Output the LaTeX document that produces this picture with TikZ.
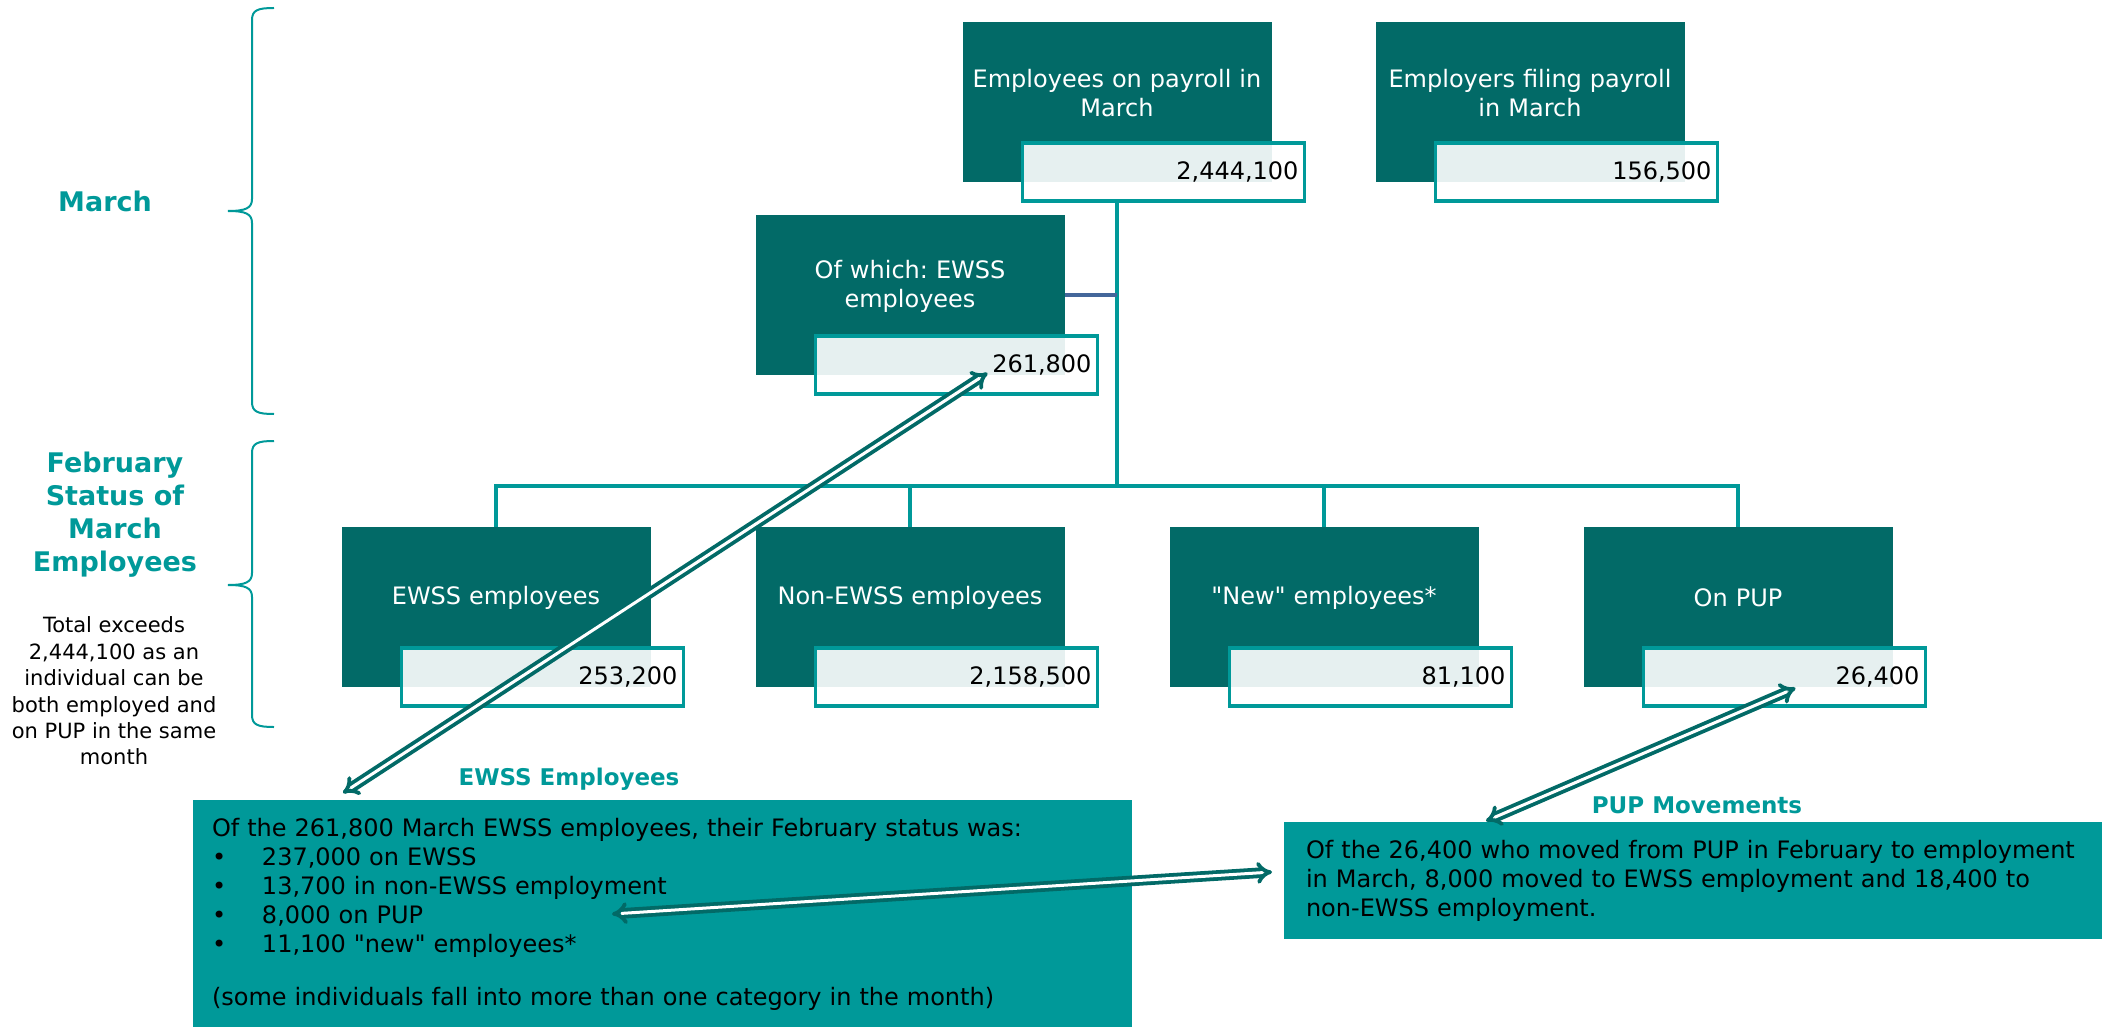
\documentclass[tikz,border=0pt]{standalone}
\usepackage{fontspec}
\setmainfont{DejaVu Sans}
\usetikzlibrary{positioning,arrows.meta}
\frenchspacing

\definecolor{darkteal}{HTML}{026A67}
\definecolor{midteal}{HTML}{009999}
\definecolor{linkblue}{HTML}{44679A}

\tikzset{
  every node/.append style={font=\fontsize{24pt}{29pt}\selectfont},
  darkbox/.style={fill=darkteal,minimum width=309pt,minimum height=160pt,inner sep=0pt,outer sep=0pt},
  boxtext/.style={text=white,align=center,text width=300pt,yshift=9pt},
  valbox/.style={draw=midteal,line width=3.5pt,fill=white,fill opacity=0.9,text opacity=1,
    minimum width=282pt,minimum height=58pt,text width=270pt,align=right,inner sep=0pt,
    outer sep=0pt,anchor=north west},
  link/.style={draw=midteal,line width=4pt},
  notebox/.style={fill=midteal,anchor=north west,align=left,inner xsep=19pt,inner ysep=18pt,outer sep=0pt},
  notehead/.style={text=midteal,font=\bfseries\fontsize{23pt}{28pt}\selectfont},
  sidehead/.style={text=midteal,align=center,font=\bfseries\fontsize{27pt}{33pt}\selectfont},
  sidebrace/.style={draw=midteal,line width=2pt},
  twoway/.style={draw=darkteal,line width=3.8pt,double=white,double distance=3pt,line join=round,
    {Implies[scale=1.35]}-{Implies[scale=1.35]}},
}
\newcommand{\bul}{\makebox[50pt][l]{\textbullet}}

\begin{document}
\begin{tikzpicture}[x=1pt,y=-1pt]
\useasboundingbox (0,0) rectangle (2113,1027);

% left side headings
\node[sidehead] (marchhead) at (105,201) {March};
\node[sidehead] (febhead) at (115,515) {February\\Status of\\March\\Employees};
\node[align=center,font=\fontsize{21pt}{26.4pt}\selectfont] (total) at (114,691)
  {Total exceeds\\2,444,100 as an\\individual can be\\both employed and\\on PUP in the same\\month};
\foreach \ya/\ym/\yb in {8/211/414, 441/585/727}
  \draw[sidebrace] (274,\ya) .. controls (258,\ya) and (252,\ya+2) .. (252,\ya+12)
    -- (252,\ym-12) .. controls (252,\ym-3) and (246,\ym) .. (228,\ym)
    .. controls (246,\ym) and (252,\ym+3) .. (252,\ym+12)
    -- (252,\yb-12) .. controls (252,\yb-2) and (258,\yb) .. (274,\yb);

% March boxes
\node[darkbox,label={[boxtext]center:{Employees on payroll in\\March}}] (pay) at (1117,102) {};
\node[valbox] (payv) at ([shift={(60,121)}]pay.north west) {2,444,100};
\node[darkbox,label={[boxtext]center:{Employers filing payroll\\in March}}] (firms) at (1530,102) {};
\node[valbox] (firmsv) at ([shift={(60,121)}]firms.north west) {156,500};
\node[darkbox,label={[boxtext]center:{Of which: EWSS\\employees}}] (which) at (910,295) {};
\node[valbox] (whichv) at ([shift={(60,121)}]which.north west) {261,800};

% February status boxes
\node[darkbox,label={[boxtext]center:EWSS employees}] (ewss) at (496,607) {};
\node[valbox] (ewssv) at ([shift={(60,121)}]ewss.north west) {253,200};
\node[darkbox,label={[boxtext]center:Non-EWSS employees}] (nonewss) at (910,607) {};
\node[valbox] (nonewssv) at ([shift={(60,121)}]nonewss.north west) {2,158,500};
\node[darkbox,label={[boxtext]center:\textquotedbl New\textquotedbl\ employees*}] (newemp) at (1324,607) {};
\node[valbox] (newempv) at ([shift={(60,121)}]newemp.north west) {81,100};
\node[darkbox,label={[boxtext]center:On PUP}] (pup) at (1738,607) {};
\node[valbox] (pupv) at ([shift={(60,121)}]pup.north west) {26,400};

% tree lines
\coordinate (bus) at (1117,486);
\draw[link] (pay.south |- payv.south) -- (bus);
\foreach \n in {ewss,nonewss,newemp,pup}
  \draw[link] (bus) -| (\n.north);
\draw[link,draw=linkblue] (which.east) -- (which.east -| pay.south);

% notes
\node[notehead] (ewsshead) at (569,779) {EWSS Employees};
\node[notebox,text width=901pt] (ewssnote) at (193,800)
  {Of the 261,800 March EWSS employees, their February status was:\\
   \bul 237,000 on EWSS\\
   \bul 13,700 in non-EWSS employment\\
   \bul 8,000 on PUP\\
   \bul 11,100 \textquotedbl new\textquotedbl\ employees*\\[24pt]
   (some individuals fall into more than one category in the month)};
\node[notehead] (puphead) at (1697,805) {PUP Movements};
\node[notebox,inner xsep=22pt,text width=774pt] (pupnote) at (1284,822)
  {Of the 26,400 who moved from PUP in February to employment\\
   in March, 8,000 moved to EWSS employment and 18,400 to\\
   non-EWSS employment.};

% movement arrows
\draw[twoway] ([shift={(150,-7)}]ewssnote.north west) -- ([shift={(-110,-21)}]whichv.south east);
\draw[twoway] ([shift={(202,-1)}]pupnote.north west) -- ([shift={(152,-18)}]pupv.south west);
\draw[twoway] ([shift={(419,114)}]ewssnote.north west) -- ([shift={(-12,50)}]pupnote.north west);

\end{tikzpicture}
\end{document}
